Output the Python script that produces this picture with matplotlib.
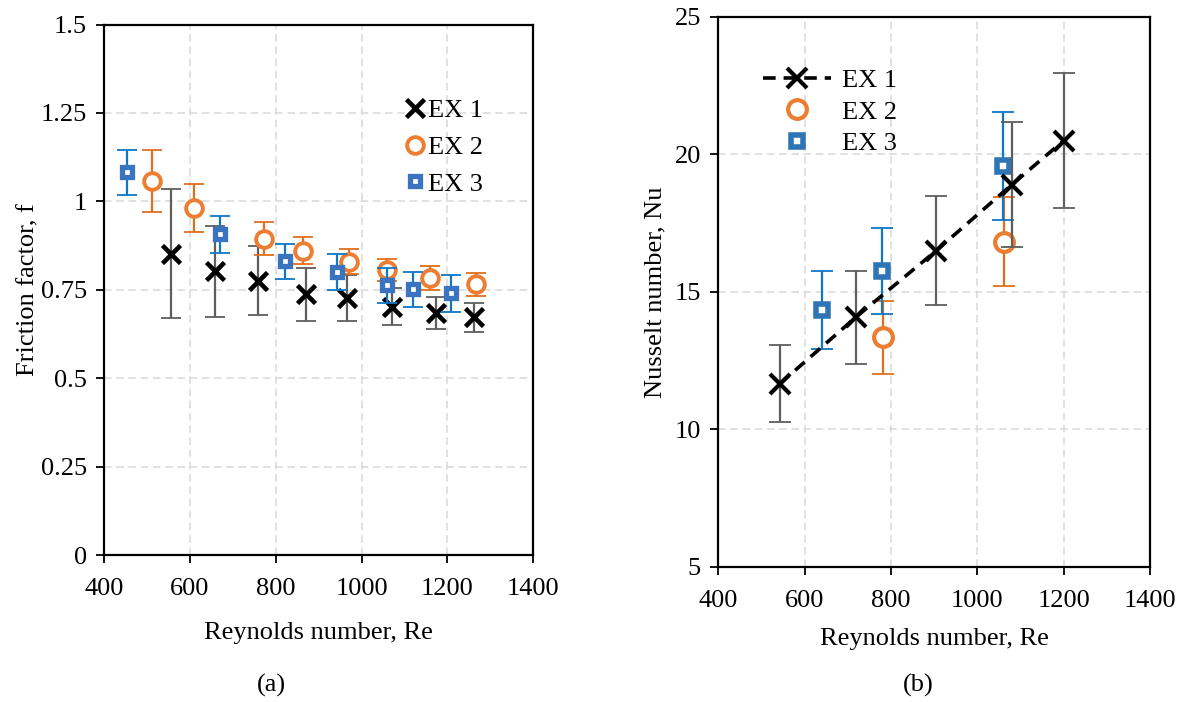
"""Friction factor and Nusselt number vs Reynolds number, three experiments."""

import matplotlib

matplotlib.use("Agg")
import matplotlib.pyplot as plt

plt.rcParams["font.family"] = ["Liberation Serif", "DejaVu Serif"]
plt.rcParams["font.size"] = 19

# (a) friction factor
f_re_ex1 = [555, 659, 758, 870, 967, 1070, 1174, 1262]
f_ex1 = [0.852, 0.802, 0.776, 0.737, 0.727, 0.702, 0.685, 0.672]
f_err_ex1 = [0.183, 0.128, 0.097, 0.074, 0.064, 0.052, 0.046, 0.040]

f_re_ex2 = [511, 610, 772, 864, 971, 1060, 1159, 1267]
f_ex2 = [1.058, 0.980, 0.895, 0.860, 0.829, 0.806, 0.783, 0.765]
f_err_ex2 = [0.088, 0.068, 0.046, 0.038, 0.035, 0.031, 0.034, 0.032]

f_re_ex3 = [453, 669, 822, 942, 1060, 1120, 1208]
f_ex3 = [1.082, 0.907, 0.830, 0.800, 0.763, 0.751, 0.740]
f_err_ex3 = [0.063, 0.052, 0.050, 0.050, 0.050, 0.050, 0.052]

# (b) Nusselt number
nu_re_ex1 = [542, 718, 905, 1080, 1200]
nu_ex1 = [11.65, 14.07, 16.50, 18.90, 20.50]
nu_err_ex1 = [1.40, 1.69, 1.98, 2.26, 2.47]

nu_re_ex2 = [781, 1062]
nu_ex2 = [13.34, 16.82]
nu_err_ex2 = [1.33, 1.62]

nu_re_ex3 = [640, 780, 1060]
nu_ex3 = [14.33, 15.75, 19.57]
nu_err_ex3 = [1.42, 1.56, 1.96]

BLACK = "black"
ORANGE = "#ED7D31"
ORANGE_BAR = "#E0701E"
BLUE = "#3A74C0"
BLUE2 = "#2E75B6"
BLUE_BAR = "#0F77C8"
GREY_BAR = "#5E5E5E"


def bars(ax, x, y, err, color, cap, z):
    ax.errorbar(x, y, yerr=err, fmt="none", ecolor=color, elinewidth=1.6,
                capsize=cap, capthick=1.3, zorder=z)


def style_axes(ax):
    ax.grid(True, color="#D9D9D9", linestyle=(0, (5, 3)), linewidth=1.1)
    ax.set_axisbelow(True)
    for side in ax.spines.values():
        side.set_linewidth(1.6)
        side.set_color("black")
    ax.tick_params(direction="out", length=5.5, width=1.3, pad=7,
                   top=False, right=False)
    ax.tick_params(axis="x", pad=11)


fig = plt.figure(figsize=(11.86, 7.02), dpi=100)
ax1 = fig.add_axes([0.0879, 0.2094, 0.3617, 0.7556])
ax2 = fig.add_axes([0.6057, 0.1927, 0.3640, 0.7833])

# ---- panel (a)
bars(ax1, f_re_ex1, f_ex1, f_err_ex1, GREY_BAR, 7, 3)
h1, = ax1.plot(f_re_ex1, f_ex1, "x", color=BLACK, ms=12.5, mew=3.3,
               label="EX 1", zorder=3)
bars(ax1, f_re_ex2, f_ex2, f_err_ex2, ORANGE_BAR, 7, 4)
h2, = ax1.plot(f_re_ex2, f_ex2, "o", ms=12, mfc="white", mec=ORANGE,
               mew=2.8, label="EX 2", zorder=4)
bars(ax1, f_re_ex3, f_ex3, f_err_ex3, BLUE_BAR, 7, 5)
h3, = ax1.plot(f_re_ex3, f_ex3, "s", ms=7.5, mfc="white", mec=BLUE,
               mew=3.8, label="EX 3", zorder=5)

ax1.set_xlim(400, 1400)
ax1.set_ylim(0, 1.5)
ax1.set_xticks([400, 600, 800, 1000, 1200, 1400])
ax1.set_yticks([0, 0.25, 0.5, 0.75, 1.0, 1.25, 1.5])
ax1.set_yticklabels(["0", "0.25", "0.5", "0.75", "1", "1.25", "1.5"])
ax1.set_xlabel("Reynolds number, Re", labelpad=16)
ax1.set_ylabel("Friction factor, f", labelpad=1)
style_axes(ax1)

ax1.legend([h1, h2, h3], ["EX 1", "EX 2", "EX 3"], loc="upper left",
           bbox_to_anchor=(0.675, 0.88), frameon=False, handlelength=0.8,
           handletextpad=0.1, labelspacing=0.5, borderaxespad=0)

# ---- panel (b)
bars(ax2, nu_re_ex1, nu_ex1, nu_err_ex1, GREY_BAR, 8, 3)
g1, = ax2.plot(nu_re_ex1, nu_ex1, "x--", color=BLACK, ms=15, mew=3.0,
               lw=2.6, dashes=(3.5, 2.2), label="EX 1", zorder=3)
bars(ax2, nu_re_ex2, nu_ex2, nu_err_ex2, ORANGE_BAR, 8, 2)
g2, = ax2.plot(nu_re_ex2, nu_ex2, "o", ms=13.5, mfc="white", mec=ORANGE,
               mew=3.0, label="EX 2", zorder=2)
bars(ax2, nu_re_ex3, nu_ex3, nu_err_ex3, BLUE_BAR, 8, 2)
g3, = ax2.plot(nu_re_ex3, nu_ex3, "s", ms=8, mfc="white", mec=BLUE2,
               mew=4.0, label="EX 3", zorder=2)

ax2.set_xlim(400, 1400)
ax2.set_ylim(5, 25)
ax2.set_xticks([400, 600, 800, 1000, 1200, 1400])
ax2.set_yticks([5, 10, 15, 20, 25])
ax2.set_xlabel("Reynolds number, Re", labelpad=12)
ax2.set_ylabel("Nusselt number, Nu", labelpad=6)
style_axes(ax2)

ax2.legend([g1, g2, g3], ["EX 1", "EX 2", "EX 3"], loc="upper left",
           bbox_to_anchor=(0.078, 0.925), frameon=False, handlelength=2.6,
           handletextpad=0.4, labelspacing=0.3, borderaxespad=0)

fig.text(0.2285, 0.023, "(a)", ha="center", va="center", fontsize=19)
fig.text(0.774, 0.023, "(b)", ha="center", va="center", fontsize=19)

fig.savefig("out.png", dpi=100)
